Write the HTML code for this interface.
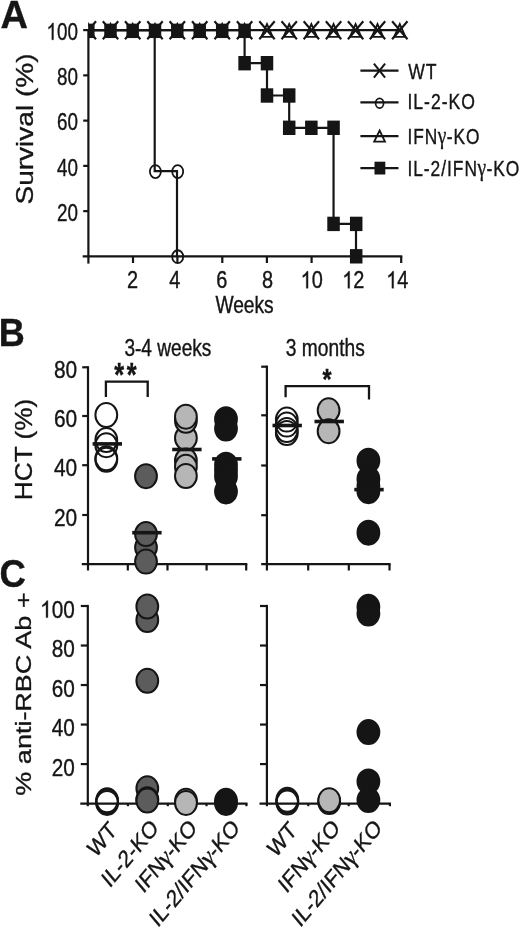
<!DOCTYPE html>
<html><head><meta charset="utf-8"><title>Figure</title>
<style>
html,body{margin:0;padding:0;background:#fff;}
body{width:520px;height:930px;overflow:hidden;font-family:"Liberation Sans",sans-serif;}
svg{display:block;filter:grayscale(1);}
svg text{font-family:"Liberation Sans",sans-serif;fill:#151515;stroke:#151515;stroke-width:0.35px;vector-effect:non-scaling-stroke;}
</style></head><body>
<svg width="520" height="930" viewBox="0 0 520 930">
<rect width="520" height="930" fill="#fff"/>
<g id="panelA">
<line x1="88.40" y1="29.00" x2="88.40" y2="263.60" stroke="#151515" stroke-width="2.2" stroke-linecap="butt"/>
<line x1="82.70" y1="256.40" x2="402.30" y2="256.40" stroke="#151515" stroke-width="2.2" stroke-linecap="butt"/>
<line x1="83.20" y1="211.14" x2="88.40" y2="211.14" stroke="#151515" stroke-width="2.2" stroke-linecap="butt"/>
<line x1="83.20" y1="165.88" x2="88.40" y2="165.88" stroke="#151515" stroke-width="2.2" stroke-linecap="butt"/>
<line x1="83.20" y1="120.62" x2="88.40" y2="120.62" stroke="#151515" stroke-width="2.2" stroke-linecap="butt"/>
<line x1="83.20" y1="75.36" x2="88.40" y2="75.36" stroke="#151515" stroke-width="2.2" stroke-linecap="butt"/>
<line x1="83.20" y1="30.10" x2="88.40" y2="30.10" stroke="#151515" stroke-width="2.2" stroke-linecap="butt"/>
<line x1="133.00" y1="256.40" x2="133.00" y2="263.00" stroke="#151515" stroke-width="2.2" stroke-linecap="butt"/>
<line x1="177.40" y1="256.40" x2="177.40" y2="263.00" stroke="#151515" stroke-width="2.2" stroke-linecap="butt"/>
<line x1="222.30" y1="256.40" x2="222.30" y2="263.00" stroke="#151515" stroke-width="2.2" stroke-linecap="butt"/>
<line x1="266.90" y1="256.40" x2="266.90" y2="263.00" stroke="#151515" stroke-width="2.2" stroke-linecap="butt"/>
<line x1="311.60" y1="256.40" x2="311.60" y2="263.00" stroke="#151515" stroke-width="2.2" stroke-linecap="butt"/>
<line x1="356.20" y1="256.40" x2="356.20" y2="263.00" stroke="#151515" stroke-width="2.2" stroke-linecap="butt"/>
<line x1="401.20" y1="256.40" x2="401.20" y2="263.00" stroke="#151515" stroke-width="2.2" stroke-linecap="butt"/>
<text transform="translate(77.90,220.84) scale(0.785,1)" font-size="24" text-anchor="end" font-weight="normal" >20</text>
<text transform="translate(77.90,175.58) scale(0.785,1)" font-size="24" text-anchor="end" font-weight="normal" >40</text>
<text transform="translate(77.90,130.32) scale(0.785,1)" font-size="24" text-anchor="end" font-weight="normal" >60</text>
<text transform="translate(77.90,85.06) scale(0.785,1)" font-size="24" text-anchor="end" font-weight="normal" >80</text>
<path d="M763 0H583V-1125Q518 -1064 412.5 -1003Q307 -942 223 -912V-1082Q374 -1152 487 -1251Q600 -1350 647 -1443H763Z" transform="translate(46.47,39.80) scale(0.00920,0.01172)" fill="#151515" stroke="#151515" stroke-width="0.35" vector-effect="non-scaling-stroke"/>
<text transform="translate(56.94,39.80) scale(0.785,1)" font-size="24" text-anchor="start" font-weight="normal" >00</text>
<text transform="translate(132.50,288.20) scale(0.83,1)" font-size="24" text-anchor="middle" font-weight="normal" >2</text>
<text transform="translate(174.80,288.20) scale(0.83,1)" font-size="24" text-anchor="middle" font-weight="normal" >4</text>
<text transform="translate(221.80,288.20) scale(0.83,1)" font-size="24" text-anchor="middle" font-weight="normal" >6</text>
<text transform="translate(267.50,288.20) scale(0.83,1)" font-size="24" text-anchor="middle" font-weight="normal" >8</text>
<path d="M763 0H583V-1125Q518 -1064 412.5 -1003Q307 -942 223 -912V-1082Q374 -1152 487 -1251Q600 -1350 647 -1443H763Z" transform="translate(300.62,288.20) scale(0.00973,0.01172)" fill="#151515" stroke="#151515" stroke-width="0.35" vector-effect="non-scaling-stroke"/>
<text transform="translate(311.70,288.20) scale(0.83,1)" font-size="24" text-anchor="start" font-weight="normal" >0</text>
<path d="M763 0H583V-1125Q518 -1064 412.5 -1003Q307 -942 223 -912V-1082Q374 -1152 487 -1251Q600 -1350 647 -1443H763Z" transform="translate(342.22,288.20) scale(0.00973,0.01172)" fill="#151515" stroke="#151515" stroke-width="0.35" vector-effect="non-scaling-stroke"/>
<text transform="translate(353.30,288.20) scale(0.83,1)" font-size="24" text-anchor="start" font-weight="normal" >2</text>
<path d="M763 0H583V-1125Q518 -1064 412.5 -1003Q307 -942 223 -912V-1082Q374 -1152 487 -1251Q600 -1350 647 -1443H763Z" transform="translate(386.22,288.20) scale(0.00973,0.01172)" fill="#151515" stroke="#151515" stroke-width="0.35" vector-effect="non-scaling-stroke"/>
<text transform="translate(397.30,288.20) scale(0.83,1)" font-size="24" text-anchor="start" font-weight="normal" >4</text>
<text transform="translate(215.40,312.90) scale(0.8,1)" font-size="24" text-anchor="start" font-weight="normal" >Weeks</text>
<text transform="translate(33.00,129.00) rotate(-90) scale(1.22,1)" font-size="23" text-anchor="middle" font-weight="normal" >Survival (%)</text>
<text transform="translate(0.60,27.60) scale(1.0,1)" font-size="38" text-anchor="start" font-weight="bold"  stroke="none">A</text>
<clipPath id="clipA"><rect x="88.20" y="0" width="440" height="300"/></clipPath>
<g clip-path="url(#clipA)">
<line x1="88.40" y1="30.10" x2="400.20" y2="30.10" stroke="#151515" stroke-width="2.2" stroke-linecap="butt"/>
<polyline fill="none" stroke="#151515" stroke-width="2.2" points="88.00,30.10 154.70,30.10 154.70,171.20 177.00,171.20 177.00,256.30"/>
<polyline fill="none" stroke="#151515" stroke-width="2.2" points="88.30,30.10 244.60,30.10 244.60,63.20 267.00,63.20 267.00,95.50 289.20,95.50 289.20,127.80 333.55,127.80 333.55,223.90 356.00,223.90 356.00,256.30"/>
<line x1="80.60" y1="21.20" x2="96.00" y2="39.20" stroke="#151515" stroke-width="2.1" stroke-linecap="butt"/>
<line x1="80.60" y1="39.20" x2="96.00" y2="21.20" stroke="#151515" stroke-width="2.1" stroke-linecap="butt"/>
<polygon points="88.30,24.20 93.90,36.90 82.70,36.90" fill="none" stroke="#151515" stroke-width="1.9" stroke-linejoin="miter"/>
<line x1="102.80" y1="21.20" x2="118.20" y2="39.20" stroke="#151515" stroke-width="2.1" stroke-linecap="butt"/>
<line x1="102.80" y1="39.20" x2="118.20" y2="21.20" stroke="#151515" stroke-width="2.1" stroke-linecap="butt"/>
<polygon points="110.50,24.20 116.10,36.90 104.90,36.90" fill="none" stroke="#151515" stroke-width="1.9" stroke-linejoin="miter"/>
<line x1="125.00" y1="21.20" x2="140.40" y2="39.20" stroke="#151515" stroke-width="2.1" stroke-linecap="butt"/>
<line x1="125.00" y1="39.20" x2="140.40" y2="21.20" stroke="#151515" stroke-width="2.1" stroke-linecap="butt"/>
<polygon points="132.70,24.20 138.30,36.90 127.10,36.90" fill="none" stroke="#151515" stroke-width="1.9" stroke-linejoin="miter"/>
<line x1="147.30" y1="21.20" x2="162.70" y2="39.20" stroke="#151515" stroke-width="2.1" stroke-linecap="butt"/>
<line x1="147.30" y1="39.20" x2="162.70" y2="21.20" stroke="#151515" stroke-width="2.1" stroke-linecap="butt"/>
<polygon points="155.00,24.20 160.60,36.90 149.40,36.90" fill="none" stroke="#151515" stroke-width="1.9" stroke-linejoin="miter"/>
<line x1="169.60" y1="21.20" x2="185.00" y2="39.20" stroke="#151515" stroke-width="2.1" stroke-linecap="butt"/>
<line x1="169.60" y1="39.20" x2="185.00" y2="21.20" stroke="#151515" stroke-width="2.1" stroke-linecap="butt"/>
<polygon points="177.30,24.20 182.90,36.90 171.70,36.90" fill="none" stroke="#151515" stroke-width="1.9" stroke-linejoin="miter"/>
<line x1="192.00" y1="21.20" x2="207.40" y2="39.20" stroke="#151515" stroke-width="2.1" stroke-linecap="butt"/>
<line x1="192.00" y1="39.20" x2="207.40" y2="21.20" stroke="#151515" stroke-width="2.1" stroke-linecap="butt"/>
<polygon points="199.70,24.20 205.30,36.90 194.10,36.90" fill="none" stroke="#151515" stroke-width="1.9" stroke-linejoin="miter"/>
<line x1="214.50" y1="21.20" x2="229.90" y2="39.20" stroke="#151515" stroke-width="2.1" stroke-linecap="butt"/>
<line x1="214.50" y1="39.20" x2="229.90" y2="21.20" stroke="#151515" stroke-width="2.1" stroke-linecap="butt"/>
<polygon points="222.20,24.20 227.80,36.90 216.60,36.90" fill="none" stroke="#151515" stroke-width="1.9" stroke-linejoin="miter"/>
<line x1="236.90" y1="21.20" x2="252.30" y2="39.20" stroke="#151515" stroke-width="2.1" stroke-linecap="butt"/>
<line x1="236.90" y1="39.20" x2="252.30" y2="21.20" stroke="#151515" stroke-width="2.1" stroke-linecap="butt"/>
<polygon points="244.60,24.20 250.20,36.90 239.00,36.90" fill="none" stroke="#151515" stroke-width="1.9" stroke-linejoin="miter"/>
<line x1="259.30" y1="21.20" x2="274.70" y2="39.20" stroke="#151515" stroke-width="2.1" stroke-linecap="butt"/>
<line x1="259.30" y1="39.20" x2="274.70" y2="21.20" stroke="#151515" stroke-width="2.1" stroke-linecap="butt"/>
<polygon points="267.00,24.20 272.60,36.90 261.40,36.90" fill="none" stroke="#151515" stroke-width="1.9" stroke-linejoin="miter"/>
<line x1="281.50" y1="21.20" x2="296.90" y2="39.20" stroke="#151515" stroke-width="2.1" stroke-linecap="butt"/>
<line x1="281.50" y1="39.20" x2="296.90" y2="21.20" stroke="#151515" stroke-width="2.1" stroke-linecap="butt"/>
<polygon points="289.20,24.20 294.80,36.90 283.60,36.90" fill="none" stroke="#151515" stroke-width="1.9" stroke-linejoin="miter"/>
<line x1="303.65" y1="21.20" x2="319.05" y2="39.20" stroke="#151515" stroke-width="2.1" stroke-linecap="butt"/>
<line x1="303.65" y1="39.20" x2="319.05" y2="21.20" stroke="#151515" stroke-width="2.1" stroke-linecap="butt"/>
<polygon points="311.35,24.20 316.95,36.90 305.75,36.90" fill="none" stroke="#151515" stroke-width="1.9" stroke-linejoin="miter"/>
<line x1="325.85" y1="21.20" x2="341.25" y2="39.20" stroke="#151515" stroke-width="2.1" stroke-linecap="butt"/>
<line x1="325.85" y1="39.20" x2="341.25" y2="21.20" stroke="#151515" stroke-width="2.1" stroke-linecap="butt"/>
<polygon points="333.55,24.20 339.15,36.90 327.95,36.90" fill="none" stroke="#151515" stroke-width="1.9" stroke-linejoin="miter"/>
<line x1="347.90" y1="21.20" x2="363.30" y2="39.20" stroke="#151515" stroke-width="2.1" stroke-linecap="butt"/>
<line x1="347.90" y1="39.20" x2="363.30" y2="21.20" stroke="#151515" stroke-width="2.1" stroke-linecap="butt"/>
<polygon points="355.60,24.20 361.20,36.90 350.00,36.90" fill="none" stroke="#151515" stroke-width="1.9" stroke-linejoin="miter"/>
<line x1="369.80" y1="21.20" x2="385.20" y2="39.20" stroke="#151515" stroke-width="2.1" stroke-linecap="butt"/>
<line x1="369.80" y1="39.20" x2="385.20" y2="21.20" stroke="#151515" stroke-width="2.1" stroke-linecap="butt"/>
<polygon points="377.50,24.20 383.10,36.90 371.90,36.90" fill="none" stroke="#151515" stroke-width="1.9" stroke-linejoin="miter"/>
<line x1="392.10" y1="21.20" x2="407.50" y2="39.20" stroke="#151515" stroke-width="2.1" stroke-linecap="butt"/>
<line x1="392.10" y1="39.20" x2="407.50" y2="21.20" stroke="#151515" stroke-width="2.1" stroke-linecap="butt"/>
<polygon points="399.80,24.20 405.40,36.90 394.20,36.90" fill="none" stroke="#151515" stroke-width="1.9" stroke-linejoin="miter"/>
<rect x="82.05" y="23.65" width="12.50" height="14.40" fill="#151515"/>
<rect x="104.25" y="23.65" width="12.50" height="14.40" fill="#151515"/>
<rect x="126.45" y="23.65" width="12.50" height="14.40" fill="#151515"/>
<rect x="148.75" y="23.65" width="12.50" height="14.40" fill="#151515"/>
<rect x="171.05" y="23.65" width="12.50" height="14.40" fill="#151515"/>
<rect x="193.45" y="23.65" width="12.50" height="14.40" fill="#151515"/>
<rect x="215.95" y="23.65" width="12.50" height="14.40" fill="#151515"/>
<rect x="238.35" y="23.65" width="12.50" height="14.40" fill="#151515"/>
<rect x="238.35" y="56.00" width="12.50" height="14.40" fill="#151515"/>
<rect x="260.75" y="56.00" width="12.50" height="14.40" fill="#151515"/>
<rect x="260.75" y="88.30" width="12.50" height="14.40" fill="#151515"/>
<rect x="282.95" y="88.30" width="12.50" height="14.40" fill="#151515"/>
<rect x="282.95" y="120.60" width="12.50" height="14.40" fill="#151515"/>
<rect x="305.10" y="120.60" width="12.50" height="14.40" fill="#151515"/>
<rect x="327.30" y="120.60" width="12.50" height="14.40" fill="#151515"/>
<rect x="327.30" y="216.70" width="12.50" height="14.40" fill="#151515"/>
<rect x="349.95" y="216.70" width="12.50" height="14.40" fill="#151515"/>
<rect x="349.95" y="249.10" width="12.50" height="14.40" fill="#151515"/>
<ellipse cx="155.40" cy="171.60" rx="5.5" ry="6.45" fill="none" stroke="#151515" stroke-width="1.8"/>
<ellipse cx="177.70" cy="171.60" rx="5.5" ry="6.45" fill="none" stroke="#151515" stroke-width="1.8"/>
<ellipse cx="177.70" cy="256.70" rx="5.5" ry="6.45" fill="none" stroke="#151515" stroke-width="1.8"/>
</g>
<line x1="360.40" y1="70.70" x2="398.50" y2="70.70" stroke="#151515" stroke-width="2.2" stroke-linecap="butt"/>
<text transform="translate(408.20,78.80) scale(0.7822222222222223,1)" font-size="22.5" text-anchor="start" font-weight="normal" letter-spacing="1.27">WT</text>
<line x1="360.40" y1="102.30" x2="398.50" y2="102.30" stroke="#151515" stroke-width="2.2" stroke-linecap="butt"/>
<text transform="translate(407.40,109.00) scale(0.7822222222222223,1)" font-size="22.5" text-anchor="start" font-weight="normal" letter-spacing="1.27">IL-2-KO</text>
<line x1="360.40" y1="136.20" x2="398.50" y2="136.20" stroke="#151515" stroke-width="2.2" stroke-linecap="butt"/>
<text transform="translate(407.40,144.00) scale(0.7695111111111111,1)" font-size="22.5" text-anchor="start" font-weight="normal" letter-spacing="1.27">IFN<tspan font-family="Liberation Serif, serif" font-size="1.12em" dx="-0.6">&#947;</tspan><tspan dx="-0.8">&#8203;</tspan>-KO</text>
<line x1="360.40" y1="168.10" x2="398.50" y2="168.10" stroke="#151515" stroke-width="2.2" stroke-linecap="butt"/>
<text transform="translate(407.40,176.20) scale(0.7724444444444446,1)" font-size="22.5" text-anchor="start" font-weight="normal" letter-spacing="1.27">IL-2/IFN<tspan font-family="Liberation Serif, serif" font-size="1.12em" dx="-0.6">&#947;</tspan><tspan dx="-0.8">&#8203;</tspan>-KO</text>
<line x1="373.90" y1="63.70" x2="385.10" y2="77.70" stroke="#151515" stroke-width="2.0" stroke-linecap="butt"/>
<line x1="373.90" y1="77.70" x2="385.10" y2="63.70" stroke="#151515" stroke-width="2.0" stroke-linecap="butt"/>
<ellipse cx="379.60" cy="103.20" rx="4.0" ry="4.9" fill="none" stroke="#151515" stroke-width="1.7"/>
<polygon points="379.60,130.50 385.00,141.70 374.20,141.70" fill="none" stroke="#151515" stroke-width="1.8" stroke-linejoin="miter"/>
<rect x="374.50" y="161.70" width="10.80" height="12.80" fill="#151515"/>
</g>
<g id="panelBC">
<line x1="88.00" y1="366.20" x2="88.00" y2="570.50" stroke="#151515" stroke-width="2.2" stroke-linecap="butt"/>
<line x1="81.80" y1="564.10" x2="247.30" y2="564.10" stroke="#151515" stroke-width="2.2" stroke-linecap="butt"/>
<line x1="82.20" y1="515.00" x2="88.00" y2="515.00" stroke="#151515" stroke-width="2.2" stroke-linecap="butt"/>
<text transform="translate(77.20,525.50) scale(0.87,1)" font-size="24" text-anchor="end" font-weight="normal" >20</text>
<line x1="82.20" y1="465.20" x2="88.00" y2="465.20" stroke="#151515" stroke-width="2.2" stroke-linecap="butt"/>
<text transform="translate(77.20,475.70) scale(0.87,1)" font-size="24" text-anchor="end" font-weight="normal" >40</text>
<line x1="82.20" y1="416.00" x2="88.00" y2="416.00" stroke="#151515" stroke-width="2.2" stroke-linecap="butt"/>
<text transform="translate(77.20,426.50) scale(0.87,1)" font-size="24" text-anchor="end" font-weight="normal" >60</text>
<line x1="82.20" y1="367.30" x2="88.00" y2="367.30" stroke="#151515" stroke-width="2.2" stroke-linecap="butt"/>
<text transform="translate(77.20,377.80) scale(0.87,1)" font-size="24" text-anchor="end" font-weight="normal" >80</text>
<line x1="127.80" y1="564.10" x2="127.80" y2="570.50" stroke="#151515" stroke-width="2.2" stroke-linecap="butt"/>
<line x1="167.50" y1="564.10" x2="167.50" y2="570.50" stroke="#151515" stroke-width="2.2" stroke-linecap="butt"/>
<line x1="206.60" y1="564.10" x2="206.60" y2="570.50" stroke="#151515" stroke-width="2.2" stroke-linecap="butt"/>
<line x1="246.20" y1="564.10" x2="246.20" y2="570.50" stroke="#151515" stroke-width="2.2" stroke-linecap="butt"/>
<line x1="266.90" y1="365.60" x2="266.90" y2="570.50" stroke="#151515" stroke-width="2.2" stroke-linecap="butt"/>
<line x1="261.20" y1="564.10" x2="390.60" y2="564.10" stroke="#151515" stroke-width="2.2" stroke-linecap="butt"/>
<line x1="261.20" y1="515.20" x2="266.90" y2="515.20" stroke="#151515" stroke-width="2.2" stroke-linecap="butt"/>
<line x1="261.20" y1="465.50" x2="266.90" y2="465.50" stroke="#151515" stroke-width="2.2" stroke-linecap="butt"/>
<line x1="261.20" y1="415.30" x2="266.90" y2="415.30" stroke="#151515" stroke-width="2.2" stroke-linecap="butt"/>
<line x1="261.20" y1="366.70" x2="266.90" y2="366.70" stroke="#151515" stroke-width="2.2" stroke-linecap="butt"/>
<line x1="308.20" y1="564.10" x2="308.20" y2="570.50" stroke="#151515" stroke-width="2.2" stroke-linecap="butt"/>
<line x1="348.80" y1="564.10" x2="348.80" y2="570.50" stroke="#151515" stroke-width="2.2" stroke-linecap="butt"/>
<line x1="389.50" y1="564.10" x2="389.50" y2="570.50" stroke="#151515" stroke-width="2.2" stroke-linecap="butt"/>
<line x1="87.80" y1="604.90" x2="87.80" y2="806.20" stroke="#151515" stroke-width="2.2" stroke-linecap="butt"/>
<line x1="80.30" y1="803.60" x2="247.50" y2="803.60" stroke="#151515" stroke-width="2.2" stroke-linecap="butt"/>
<line x1="80.80" y1="764.08" x2="87.80" y2="764.08" stroke="#151515" stroke-width="2.2" stroke-linecap="butt"/>
<text transform="translate(74.80,775.68) scale(0.865,1)" font-size="24" text-anchor="end" font-weight="normal" >20</text>
<line x1="80.80" y1="724.56" x2="87.80" y2="724.56" stroke="#151515" stroke-width="2.2" stroke-linecap="butt"/>
<text transform="translate(74.80,736.16) scale(0.865,1)" font-size="24" text-anchor="end" font-weight="normal" >40</text>
<line x1="80.80" y1="685.04" x2="87.80" y2="685.04" stroke="#151515" stroke-width="2.2" stroke-linecap="butt"/>
<text transform="translate(74.80,696.64) scale(0.865,1)" font-size="24" text-anchor="end" font-weight="normal" >60</text>
<line x1="80.80" y1="645.52" x2="87.80" y2="645.52" stroke="#151515" stroke-width="2.2" stroke-linecap="butt"/>
<text transform="translate(74.80,657.12) scale(0.865,1)" font-size="24" text-anchor="end" font-weight="normal" >80</text>
<line x1="80.80" y1="606.00" x2="87.80" y2="606.00" stroke="#151515" stroke-width="2.2" stroke-linecap="butt"/>
<path d="M763 0H583V-1125Q518 -1064 412.5 -1003Q307 -942 223 -912V-1082Q374 -1152 487 -1251Q600 -1350 647 -1443H763Z" transform="translate(40.16,617.60) scale(0.01014,0.01172)" fill="#151515" stroke="#151515" stroke-width="0.35" vector-effect="non-scaling-stroke"/>
<text transform="translate(51.71,617.60) scale(0.865,1)" font-size="24" text-anchor="start" font-weight="normal" >00</text>
<line x1="127.90" y1="803.60" x2="127.90" y2="806.20" stroke="#151515" stroke-width="2.2" stroke-linecap="butt"/>
<line x1="167.80" y1="803.60" x2="167.80" y2="806.20" stroke="#151515" stroke-width="2.2" stroke-linecap="butt"/>
<line x1="206.50" y1="803.60" x2="206.50" y2="806.20" stroke="#151515" stroke-width="2.2" stroke-linecap="butt"/>
<line x1="246.40" y1="803.60" x2="246.40" y2="806.20" stroke="#151515" stroke-width="2.2" stroke-linecap="butt"/>
<line x1="266.90" y1="604.90" x2="266.90" y2="806.20" stroke="#151515" stroke-width="2.2" stroke-linecap="butt"/>
<line x1="259.50" y1="803.60" x2="391.00" y2="803.60" stroke="#151515" stroke-width="2.2" stroke-linecap="butt"/>
<line x1="260.00" y1="764.08" x2="266.90" y2="764.08" stroke="#151515" stroke-width="2.2" stroke-linecap="butt"/>
<line x1="260.00" y1="724.56" x2="266.90" y2="724.56" stroke="#151515" stroke-width="2.2" stroke-linecap="butt"/>
<line x1="260.00" y1="685.04" x2="266.90" y2="685.04" stroke="#151515" stroke-width="2.2" stroke-linecap="butt"/>
<line x1="260.00" y1="645.52" x2="266.90" y2="645.52" stroke="#151515" stroke-width="2.2" stroke-linecap="butt"/>
<line x1="260.00" y1="606.00" x2="266.90" y2="606.00" stroke="#151515" stroke-width="2.2" stroke-linecap="butt"/>
<line x1="308.30" y1="803.60" x2="308.30" y2="806.20" stroke="#151515" stroke-width="2.2" stroke-linecap="butt"/>
<line x1="348.70" y1="803.60" x2="348.70" y2="806.20" stroke="#151515" stroke-width="2.2" stroke-linecap="butt"/>
<line x1="389.90" y1="803.60" x2="389.90" y2="806.20" stroke="#151515" stroke-width="2.2" stroke-linecap="butt"/>
<text transform="translate(-1.30,346.10) scale(0.95,1)" font-size="38" text-anchor="start" font-weight="bold"  stroke="none">B</text>
<text transform="translate(-0.40,587.20) scale(0.96,1)" font-size="38" text-anchor="start" font-weight="bold"  stroke="none">C</text>
<text transform="translate(124.40,355.70) scale(0.83,1)" font-size="23" text-anchor="start" font-weight="normal" >3-4 weeks</text>
<text transform="translate(285.80,355.70) scale(0.835,1)" font-size="23" text-anchor="start" font-weight="normal" >3 months</text>
<text transform="translate(31.80,449.50) rotate(-90) scale(1.14,1)" font-size="23" text-anchor="middle" font-weight="normal" >HCT (%)</text>
<text transform="translate(30.90,694.00) rotate(-90) scale(1.2,1)" font-size="22.5" text-anchor="middle" font-weight="normal" >% anti-RBC Ab +</text>
<polyline fill="none" stroke="#151515" stroke-width="2.3" points="105.9,397 105.9,381.6 147.7,381.6 147.7,397"/>
<polyline fill="none" stroke="#151515" stroke-width="2.3" points="285.6,397.2 285.6,386.1 369.0,386.1 369.0,399.6"/>
<text transform="translate(119.30,385.70) scale(0.78,1)" font-size="32.5" text-anchor="middle" font-weight="bold"  stroke="none">*</text>
<text transform="translate(131.80,385.70) scale(0.78,1)" font-size="32.5" text-anchor="middle" font-weight="bold"  stroke="none">*</text>
<text transform="translate(327.00,388.80) scale(0.8,1)" font-size="29" text-anchor="middle" font-weight="bold"  stroke="none">*</text>
<ellipse cx="106.30" cy="415.00" rx="10.9" ry="12.0" fill="none" stroke="#151515" stroke-width="2.0"/>
<ellipse cx="106.30" cy="440.00" rx="10.9" ry="12.0" fill="none" stroke="#151515" stroke-width="2.0"/>
<ellipse cx="106.30" cy="445.20" rx="10.9" ry="12.0" fill="none" stroke="#151515" stroke-width="2.0"/>
<ellipse cx="106.30" cy="458.30" rx="10.9" ry="12.0" fill="none" stroke="#151515" stroke-width="2.0"/>
<ellipse cx="106.30" cy="459.80" rx="10.9" ry="12.0" fill="none" stroke="#151515" stroke-width="2.0"/>
<line x1="92.60" y1="443.90" x2="122.00" y2="443.90" stroke="#151515" stroke-width="3.6" stroke-linecap="butt"/>
<ellipse cx="146.00" cy="476.20" rx="10.9" ry="12.0" fill="#5c5c5c" stroke="#151515" stroke-width="2.0"/>
<ellipse cx="146.00" cy="547.30" rx="10.9" ry="12.0" fill="#5c5c5c" stroke="#151515" stroke-width="2.0"/>
<ellipse cx="146.00" cy="534.00" rx="10.9" ry="12.0" fill="#5c5c5c" stroke="#151515" stroke-width="2.0"/>
<ellipse cx="146.00" cy="561.60" rx="10.9" ry="12.0" fill="#5c5c5c" stroke="#151515" stroke-width="2.0"/>
<line x1="132.20" y1="532.70" x2="161.60" y2="532.70" stroke="#151515" stroke-width="3.6" stroke-linecap="butt"/>
<ellipse cx="185.90" cy="438.00" rx="10.9" ry="12.0" fill="#b6b6b6" stroke="#151515" stroke-width="2.0"/>
<ellipse cx="185.90" cy="420.80" rx="10.9" ry="12.0" fill="#b6b6b6" stroke="#151515" stroke-width="2.0"/>
<ellipse cx="185.90" cy="416.70" rx="10.9" ry="12.0" fill="#b6b6b6" stroke="#151515" stroke-width="2.0"/>
<ellipse cx="185.90" cy="460.50" rx="10.9" ry="12.0" fill="#b6b6b6" stroke="#151515" stroke-width="2.0"/>
<ellipse cx="185.90" cy="466.70" rx="10.9" ry="12.0" fill="#b6b6b6" stroke="#151515" stroke-width="2.0"/>
<ellipse cx="185.90" cy="476.00" rx="10.9" ry="12.0" fill="#b6b6b6" stroke="#151515" stroke-width="2.0"/>
<line x1="172.20" y1="449.50" x2="201.60" y2="449.50" stroke="#151515" stroke-width="3.6" stroke-linecap="butt"/>
<ellipse cx="226.00" cy="419.20" rx="10.9" ry="12.0" fill="#151515" stroke="#151515" stroke-width="2.0"/>
<ellipse cx="226.00" cy="428.60" rx="10.9" ry="12.0" fill="#151515" stroke="#151515" stroke-width="2.0"/>
<ellipse cx="226.00" cy="464.70" rx="10.9" ry="12.0" fill="#151515" stroke="#151515" stroke-width="2.0"/>
<ellipse cx="226.00" cy="470.50" rx="10.9" ry="12.0" fill="#151515" stroke="#151515" stroke-width="2.0"/>
<ellipse cx="226.00" cy="476.50" rx="10.9" ry="12.0" fill="#151515" stroke="#151515" stroke-width="2.0"/>
<ellipse cx="226.00" cy="491.40" rx="10.9" ry="12.0" fill="#151515" stroke="#151515" stroke-width="2.0"/>
<line x1="212.10" y1="458.90" x2="241.50" y2="458.90" stroke="#151515" stroke-width="3.6" stroke-linecap="butt"/>
<ellipse cx="286.80" cy="419.60" rx="10.9" ry="12.0" fill="none" stroke="#151515" stroke-width="2.0"/>
<ellipse cx="286.80" cy="424.60" rx="10.9" ry="12.0" fill="none" stroke="#151515" stroke-width="2.0"/>
<ellipse cx="286.80" cy="430.00" rx="10.9" ry="12.0" fill="none" stroke="#151515" stroke-width="2.0"/>
<ellipse cx="286.80" cy="433.00" rx="10.9" ry="12.0" fill="none" stroke="#151515" stroke-width="2.0"/>
<line x1="272.50" y1="425.50" x2="301.90" y2="425.50" stroke="#151515" stroke-width="3.6" stroke-linecap="butt"/>
<ellipse cx="328.60" cy="410.30" rx="10.9" ry="12.0" fill="#b6b6b6" stroke="#151515" stroke-width="2.0"/>
<ellipse cx="328.60" cy="431.20" rx="10.9" ry="12.0" fill="#b6b6b6" stroke="#151515" stroke-width="2.0"/>
<line x1="314.50" y1="421.50" x2="343.90" y2="421.50" stroke="#151515" stroke-width="3.6" stroke-linecap="butt"/>
<ellipse cx="368.40" cy="532.70" rx="10.9" ry="12.0" fill="#151515" stroke="#151515" stroke-width="2.0"/>
<ellipse cx="368.40" cy="460.70" rx="10.9" ry="12.0" fill="#151515" stroke="#151515" stroke-width="2.0"/>
<ellipse cx="368.40" cy="479.00" rx="10.9" ry="12.0" fill="#151515" stroke="#151515" stroke-width="2.0"/>
<ellipse cx="368.40" cy="486.00" rx="10.9" ry="12.0" fill="#151515" stroke="#151515" stroke-width="2.0"/>
<ellipse cx="368.40" cy="491.20" rx="10.9" ry="12.0" fill="#151515" stroke="#151515" stroke-width="2.0"/>
<line x1="354.30" y1="489.60" x2="383.70" y2="489.60" stroke="#151515" stroke-width="3.6" stroke-linecap="butt"/>
<ellipse cx="107.10" cy="800.30" rx="10.9" ry="12.0" fill="none" stroke="#151515" stroke-width="2.0"/>
<ellipse cx="107.10" cy="801.60" rx="10.9" ry="12.0" fill="none" stroke="#151515" stroke-width="2.0"/>
<ellipse cx="107.10" cy="802.90" rx="10.9" ry="12.0" fill="none" stroke="#151515" stroke-width="2.0"/>
<ellipse cx="147.30" cy="620.00" rx="10.9" ry="12.0" fill="#5c5c5c" stroke="#151515" stroke-width="2.0"/>
<ellipse cx="147.30" cy="606.50" rx="10.9" ry="12.0" fill="#5c5c5c" stroke="#151515" stroke-width="2.0"/>
<ellipse cx="147.30" cy="680.80" rx="10.9" ry="12.0" fill="#5c5c5c" stroke="#151515" stroke-width="2.0"/>
<ellipse cx="147.30" cy="788.30" rx="10.9" ry="12.0" fill="#5c5c5c" stroke="#151515" stroke-width="2.0"/>
<ellipse cx="147.30" cy="799.30" rx="10.9" ry="12.0" fill="#5c5c5c" stroke="#151515" stroke-width="2.0"/>
<ellipse cx="147.30" cy="800.50" rx="10.9" ry="12.0" fill="#5c5c5c" stroke="#151515" stroke-width="2.0"/>
<ellipse cx="186.00" cy="800.80" rx="10.9" ry="12.0" fill="#b6b6b6" stroke="#151515" stroke-width="2.0"/>
<ellipse cx="186.00" cy="802.90" rx="10.9" ry="12.0" fill="#b6b6b6" stroke="#151515" stroke-width="2.0"/>
<ellipse cx="226.00" cy="800.80" rx="10.9" ry="12.0" fill="#151515" stroke="#151515" stroke-width="2.0"/>
<ellipse cx="226.00" cy="802.90" rx="10.9" ry="12.0" fill="#151515" stroke="#151515" stroke-width="2.0"/>
<ellipse cx="287.30" cy="799.80" rx="10.9" ry="12.0" fill="none" stroke="#151515" stroke-width="2.0"/>
<ellipse cx="287.30" cy="801.20" rx="10.9" ry="12.0" fill="none" stroke="#151515" stroke-width="2.0"/>
<ellipse cx="287.30" cy="802.60" rx="10.9" ry="12.0" fill="none" stroke="#151515" stroke-width="2.0"/>
<ellipse cx="329.20" cy="802.00" rx="10.9" ry="12.0" fill="#b6b6b6" stroke="#151515" stroke-width="2.0"/>
<ellipse cx="329.20" cy="800.30" rx="10.9" ry="12.0" fill="#b6b6b6" stroke="#151515" stroke-width="2.0"/>
<ellipse cx="368.40" cy="606.80" rx="10.9" ry="12.0" fill="#151515" stroke="#151515" stroke-width="2.0"/>
<ellipse cx="368.40" cy="613.60" rx="10.9" ry="12.0" fill="#151515" stroke="#151515" stroke-width="2.0"/>
<ellipse cx="368.40" cy="732.10" rx="10.9" ry="12.0" fill="#151515" stroke="#151515" stroke-width="2.0"/>
<ellipse cx="368.40" cy="781.40" rx="10.9" ry="12.0" fill="#151515" stroke="#151515" stroke-width="2.0"/>
<ellipse cx="368.40" cy="800.10" rx="10.9" ry="12.0" fill="#151515" stroke="#151515" stroke-width="2.0"/>
<text transform="translate(118.00,832.00) scale(0.84,1) rotate(-45) scale(1.0,1)" font-size="24" text-anchor="end" font-weight="normal" >WT</text>
<text transform="translate(159.60,829.40) scale(0.84,1) rotate(-45) scale(1.0,1)" font-size="24" text-anchor="end" font-weight="normal" >IL-2-KO</text>
<text transform="translate(198.00,829.40) scale(0.84,1) rotate(-45) scale(1.0,1)" font-size="24" text-anchor="end" font-weight="normal" >IFN<tspan font-family="Liberation Serif, serif" font-size="1.12em" dx="-0.6">&#947;</tspan><tspan dx="-0.8">&#8203;</tspan>-KO</text>
<text transform="translate(240.80,829.40) scale(0.84,1) rotate(-45) scale(1.0,1)" font-size="24" text-anchor="end" font-weight="normal" >IL-2/IFN<tspan font-family="Liberation Serif, serif" font-size="1.12em" dx="-0.6">&#947;</tspan><tspan dx="-0.8">&#8203;</tspan>-KO</text>
<text transform="translate(298.00,832.00) scale(0.84,1) rotate(-45) scale(1.0,1)" font-size="24" text-anchor="end" font-weight="normal" >WT</text>
<text transform="translate(341.00,829.40) scale(0.84,1) rotate(-45) scale(1.0,1)" font-size="24" text-anchor="end" font-weight="normal" >IFN<tspan font-family="Liberation Serif, serif" font-size="1.12em" dx="-0.6">&#947;</tspan><tspan dx="-0.8">&#8203;</tspan>-KO</text>
<text transform="translate(383.20,829.40) scale(0.84,1) rotate(-45) scale(1.0,1)" font-size="24" text-anchor="end" font-weight="normal" >IL-2/IFN<tspan font-family="Liberation Serif, serif" font-size="1.12em" dx="-0.6">&#947;</tspan><tspan dx="-0.8">&#8203;</tspan>-KO</text>
</g>
</svg>
</body></html>
